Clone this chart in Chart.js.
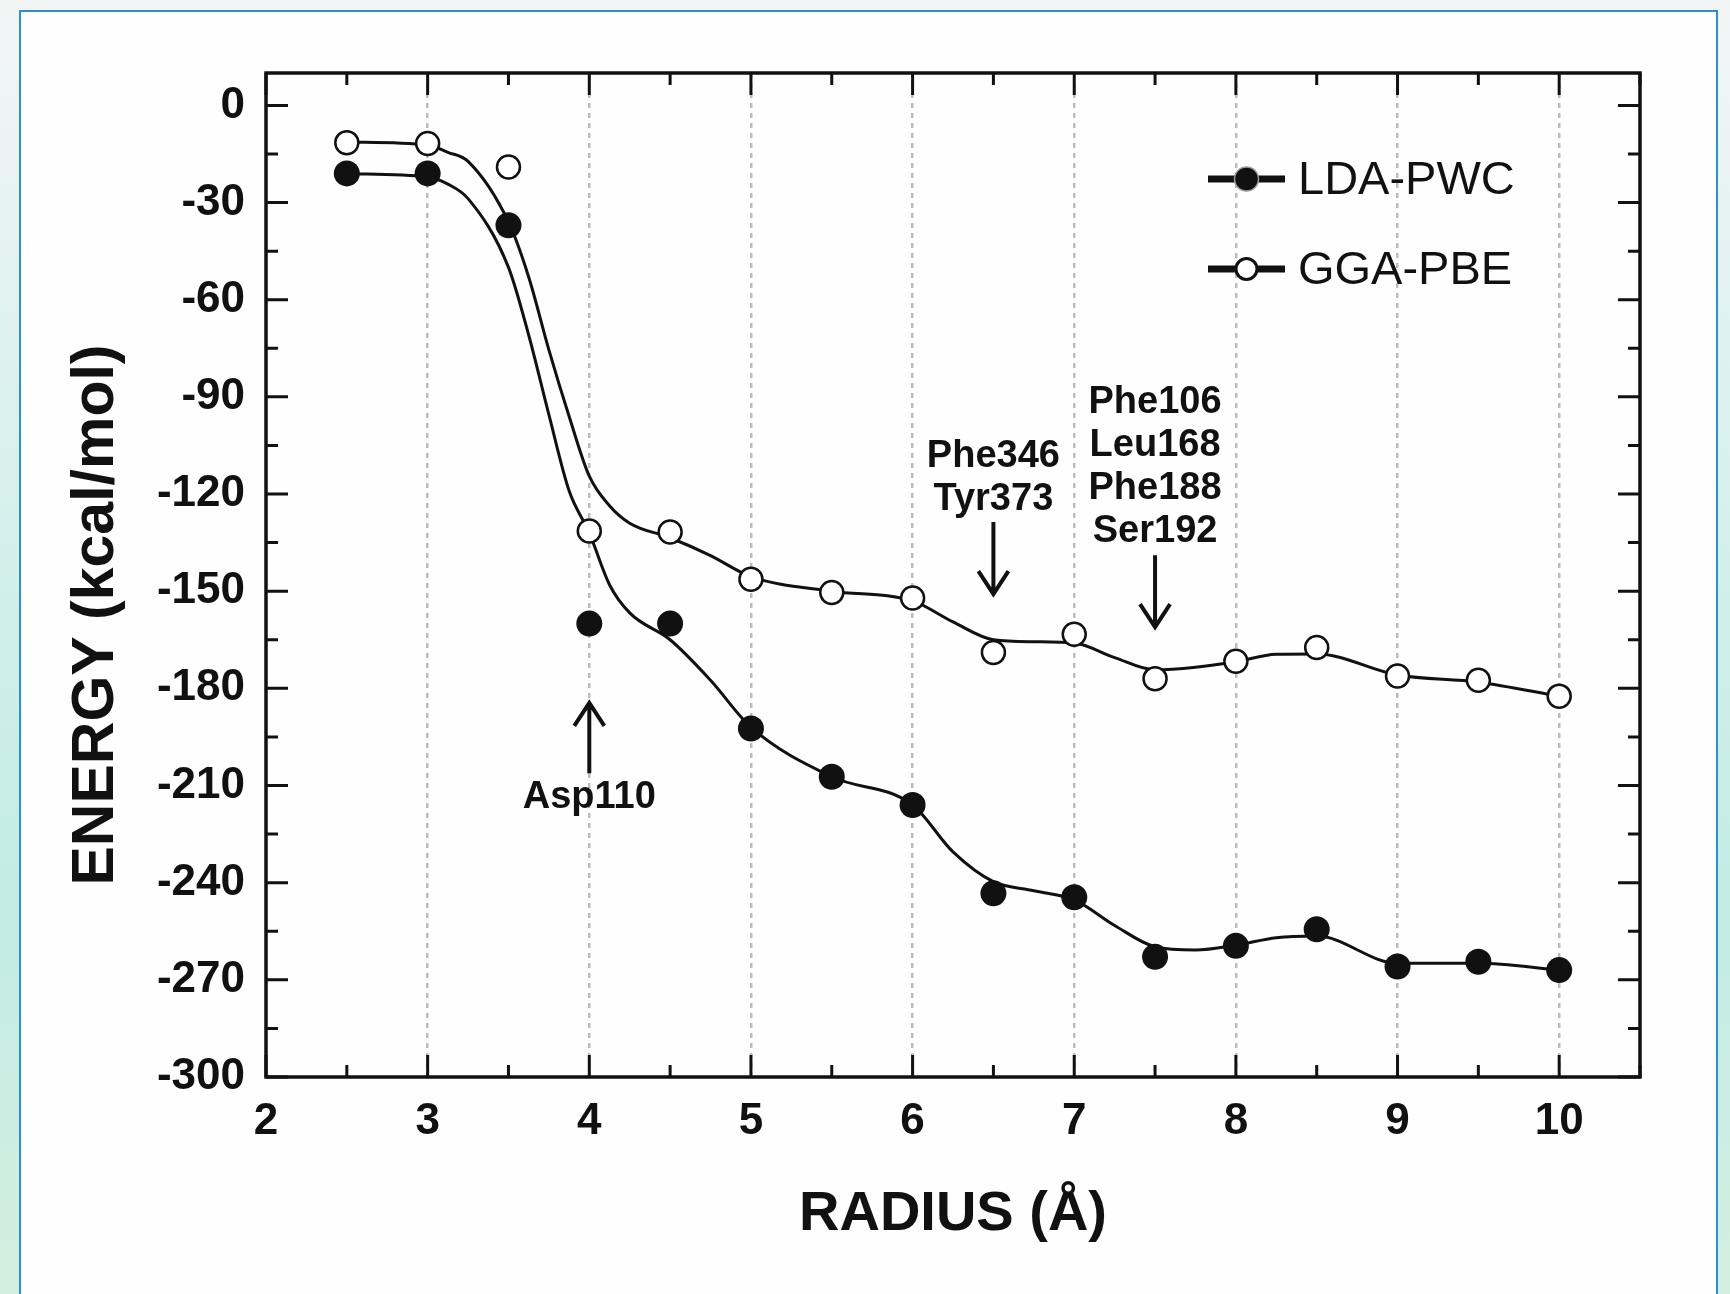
<!DOCTYPE html>
<html>
<head>
<meta charset="utf-8">
<script src="https://cdn.jsdelivr.net/npm/chart.js@4.4.1/dist/chart.umd.min.js"></script>
<style>
html, body { margin: 0; padding: 0; }
body {
  width: 1730px; height: 1294px; overflow: hidden; position: relative;
  background: linear-gradient(180deg, #f3f5f5 0%, #dcf2ef 30%, #c2ebe4 70%, #d3efdf 100%);
}
#frame {
  position: absolute; left: 19px; top: 10px; width: 1695px; height: 1310px;
  background: #fefefe; border: 2px solid #2e8fd6;
}
#wrap { position: absolute; left: 0; top: 0; width: 1730px; height: 1294px; }
</style>
</head>
<body>
<div id="frame"></div>
<div id="wrap"><canvas id="energyChart" width="1730" height="1294"></canvas></div>
<script>
// measured points
const radius = [2.5, 3, 3.5, 4, 4.5, 5, 5.5, 6, 6.5, 7, 7.5, 8, 8.5, 9, 9.5, 10]
const ldaPwc = [-21, -21, -37, -160, -160, -192.4, -207.3, -216, -243.3, -244.5, -262.9, -259.5, -254.4, -265.9, -264.4, -267]
const ggaPbe = [-11.5, -11.8, -19, -131.4, -131.7, -146.3, -150.4, -152.1, -168.9, -163.3, -177, -171.6, -167.4, -176.2, -177.5, -182.4]

// smoothed curves
const fitRadius = [2.5, 3, 3.125, 3.25, 3.5, 3.625, 3.75, 3.875, 4, 4.125, 4.25, 4.5, 4.75, 5, 5.5, 6, 6.25, 6.5, 6.75, 7, 7.25, 7.5, 7.75, 8, 8.25, 8.5, 9, 9.5, 10]
const ldaFit = [-21.1, -22.1, -24.3, -28.8, -50, -70.9, -95.5, -119, -132, -148, -156.7, -165, -177.5, -192, -207.3, -216, -230.5, -239.7, -242.5, -245.3, -253.2, -259.8, -260.8, -259.3, -257, -256.5, -264.9, -264.9, -267]
const ggaFit = [-11.3, -12.2, -14.5, -17.3, -36, -53, -75.5, -96, -114.5, -123.6, -129, -133.5, -139, -145.5, -150, -153, -159.5, -165, -165.6, -166, -170.5, -174.3, -173.5, -171.8, -169.5, -169.4, -175.9, -178.1, -182.4]

const xTicks = [2, 3, 4, 5, 6, 7, 8, 9, 10]
const yTicks = [0, -30, -60, -90, -120, -150, -180, -210, -240, -270, -300]

const legendItems = [
    { label: 'LDA-PWC', filled: true },
    { label: 'GGA-PBE', filled: false },
]

const notes = [
    { x: 6.5, lines: ['Phe346', 'Tyr373'], textY: -108.5, arrowFrom: -128.6, arrowTo: -150.9 },
    { x: 7.5, lines: ['Phe106', 'Leu168', 'Phe188', 'Ser192'], textY: -91.6, arrowFrom: -138.9, arrowTo: -161.1 },
    { x: 4, lines: ['Asp110'], textY: -213.6, arrowFrom: -206.2, arrowTo: -184.5 },
]

const FONT = "'Liberation Sans', Arial, sans-serif"
const INK = '#111111'

const toXY = (xs, ys) => xs.map((x, i) => ({ x: x, y: ys[i] }))

function arrow(ctx, x, y1, y2) {
    const dir = y2 > y1 ? 1 : -1
    ctx.beginPath()
    ctx.moveTo(x, y1)
    ctx.lineTo(x, y2)
    ctx.moveTo(x - 15, y2 - dir * 23)
    ctx.lineTo(x, y2)
    ctx.lineTo(x + 15, y2 - dir * 23)
    ctx.stroke()
}

const overlay = {
    id: 'overlay',
    afterDraw(chart) {
        const ctx = chart.ctx
        const a = chart.chartArea
        const xs = chart.scales.x
        const ys = chart.scales.y
        ctx.save()
        ctx.strokeStyle = INK
        ctx.fillStyle = INK
        ctx.lineCap = 'butt'

        // plot frame
        ctx.lineWidth = 3.5
        ctx.strokeRect(a.left, a.top, a.right - a.left, a.bottom - a.top)

        // inward ticks on all four sides
        ctx.lineWidth = 3
        ctx.beginPath()
        yTicks.forEach(v => {
            [[v, 22], [v - 15, 12]].forEach(([t, len]) => {
                if (t < -300) return
                const py = ys.getPixelForValue(t)
                ctx.moveTo(a.left, py); ctx.lineTo(a.left + len, py)
                ctx.moveTo(a.right, py); ctx.lineTo(a.right - len, py)
            })
        })
        xTicks.forEach(v => {
            [[v, 22], [v + 0.5, 12]].forEach(([t, len]) => {
                const px = xs.getPixelForValue(t)
                ctx.moveTo(px, a.bottom); ctx.lineTo(px, a.bottom - len)
                ctx.moveTo(px, a.top); ctx.lineTo(px, a.top + len)
            })
        })
        ctx.stroke()

        // y axis title
        ctx.save()
        ctx.translate(97, (a.top + a.bottom) / 2 + 40)
        ctx.rotate(-Math.PI / 2)
        ctx.font = 'bold 59px ' + FONT
        ctx.textAlign = 'center'
        ctx.textBaseline = 'middle'
        ctx.fillText('ENERGY (kcal/mol)', 0, 0)
        ctx.restore()

        // residue notes with arrows
        ctx.font = 'bold 38px ' + FONT
        ctx.textAlign = 'center'
        ctx.textBaseline = 'middle'
        ctx.lineWidth = 4
        notes.forEach(n => {
            const px = xs.getPixelForValue(n.x)
            const top = ys.getPixelForValue(n.textY)
            n.lines.forEach((t, i) => ctx.fillText(t, px, top + i * 43))
            arrow(ctx, px, ys.getPixelForValue(n.arrowFrom), ys.getPixelForValue(n.arrowTo))
        })

        // legend
        const lx = a.right - 432
        legendItems.forEach((item, i) => {
            const cy = a.top + 106 + i * 90
            ctx.lineWidth = 7
            ctx.beginPath()
            ctx.moveTo(lx, cy); ctx.lineTo(lx + 77, cy)
            ctx.stroke()
            ctx.beginPath()
            ctx.arc(lx + 38.5, cy, item.filled ? 12 : 10.5, 0, Math.PI * 2)
            if (item.filled) {
                ctx.fillStyle = INK
                ctx.fill()
                ctx.lineWidth = 1.5
                ctx.strokeStyle = '#9a9a9a'
                ctx.stroke()
            } else {
                ctx.fillStyle = '#ffffff'
                ctx.fill()
                ctx.lineWidth = 3
                ctx.strokeStyle = INK
                ctx.stroke()
            }
            ctx.strokeStyle = INK
            ctx.fillStyle = INK
            ctx.font = '47px ' + FONT
            ctx.textAlign = 'left'
            ctx.fillText(item.label, lx + 90, cy + 2)
        })
        ctx.restore()
    }
}

const canvas = document.querySelector('#energyChart')
new Chart(canvas, {
    type: 'line',
    data: {
        datasets: [
            {
                label: 'LDA-PWC',
                data: toXY(radius, ldaPwc),
                showLine: false,
                pointRadius: 13,
                pointBackgroundColor: INK,
                pointBorderColor: INK,
                pointBorderWidth: 0,
                order: 0,
            },
            {
                label: 'GGA-PBE',
                data: toXY(radius, ggaPbe),
                showLine: false,
                pointRadius: 11.5,
                pointBackgroundColor: '#ffffff',
                pointBorderColor: INK,
                pointBorderWidth: 2.5,
                order: 1,
            },
            {
                label: 'LDA fit',
                data: toXY(fitRadius, ldaFit),
                borderColor: INK,
                borderWidth: 3,
                pointRadius: 0,
                cubicInterpolationMode: 'monotone',
                order: 2,
            },
            {
                label: 'GGA fit',
                data: toXY(fitRadius, ggaFit),
                borderColor: INK,
                borderWidth: 3,
                pointRadius: 0,
                cubicInterpolationMode: 'monotone',
                order: 3,
            },
        ]
    },
    options: {
        responsive: false,
        devicePixelRatio: 1,
        animation: false,
        events: [],
        layout: { padding: { left: 0, top: 73, right: 90, bottom: 0 } },
        plugins: {
            legend: { display: false },
            tooltip: { enabled: false },
        },
        scales: {
            x: {
                type: 'linear',
                min: 2,
                max: 10.5,
                afterBuildTicks: s => { s.ticks = xTicks.map(v => ({ value: v })) },
                afterFit: s => { s.height = 217 },
                ticks: {
                    padding: 18,
                    color: INK,
                    font: { family: FONT, size: 44, weight: 'bold' },
                },
                grid: {
                    drawTicks: false,
                    lineWidth: 2.5,
                    color: c => (c.tick && c.tick.value > 2) ? '#bcbcbc' : 'rgba(0,0,0,0)',
                },
                border: { display: false, dash: [5, 5] },
                title: {
                    display: true,
                    text: 'RADIUS (Å)',
                    color: INK,
                    font: { family: FONT, size: 56, weight: 'bold' },
                    padding: { top: 0, bottom: 46 },
                },
            },
            y: {
                type: 'linear',
                min: -300,
                max: 10,
                afterBuildTicks: s => { s.ticks = yTicks.map(v => ({ value: v })) },
                afterFit: s => { s.width = 266 },
                ticks: {
                    padding: 21,
                    color: INK,
                    font: { family: FONT, size: 44, weight: 'bold' },
                },
                grid: { display: false, drawTicks: false },
                border: { display: false },
            },
        },
    },
    plugins: [overlay],
})
</script>
</body>
</html>
